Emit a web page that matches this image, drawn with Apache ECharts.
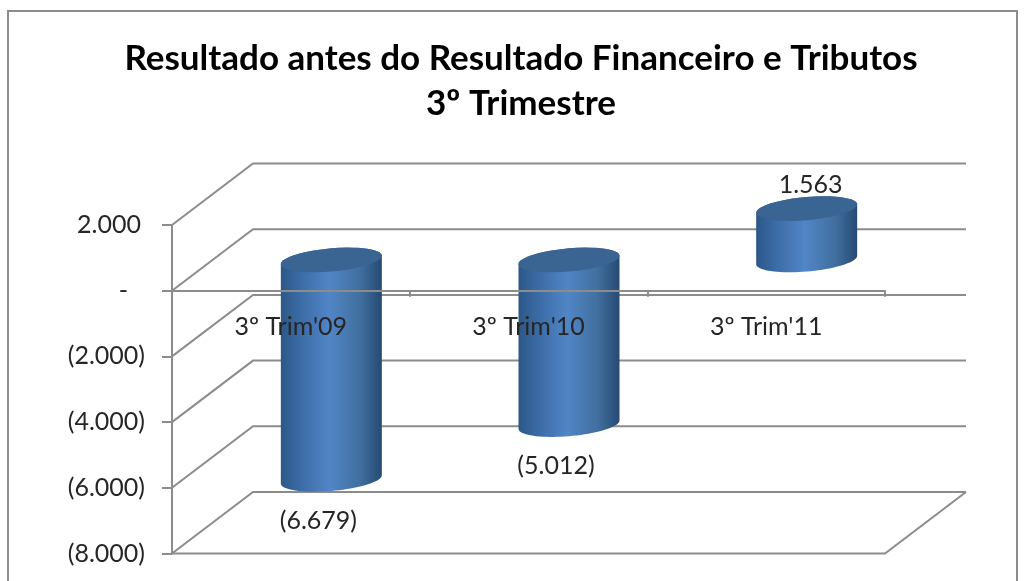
<!DOCTYPE html>
<html>
<head>
<meta charset="utf-8">
<style>
  html, body { margin: 0; padding: 0; background: #fff; }
  #chart { width: 1024px; height: 581px; }
</style>
<script src="https://cdn.jsdelivr.net/npm/echarts@6/dist/echarts.min.js"></script>
</head>
<body>
<div id="chart"></div>
<script>
const categories = ["3º Trim'09", "3º Trim'10", "3º Trim'11"]
const values = [-6679, -5012, 1563]
const yTicks = [2000, 0, -2000, -4000, -6000, -8000]
const titleLines = ['Resultado antes do Resultado Financeiro e Tributos', '3º Trimestre']

const FONT = 'Lato'
const GREY = '#8c8c8c'
const TEXT = '#262626'
// fake 3D: how far the back wall sits from the front plane
const DEPTH_X = 81
const DEPTH_Y = -61.5

function thousands (v) {
  return String(Math.abs(v)).replace(/\B(?=(\d{3})+$)/g, '.')
}

// accounting style: positives and the dash stay clear of the closing bracket column
function axisLabel (v) {
  if (v === 0) return '{dash|-}'
  return v < 0 ? '(' + thousands(v) + ')' : '{pos|' + thousands(v) + '}'
}

function renderWall (params, api) {
  const v = api.value(0)
  const rect = params.coordSys
  const y = api.coord([0, v])[1]
  const x0 = rect.x
  const x1 = rect.x + rect.width
  const style = { fill: null, stroke: GREY, lineWidth: 2 }
  const children = [{
    type: 'polyline',
    shape: { points: [[x0, y], [x0 + DEPTH_X, y + DEPTH_Y], [x1 + DEPTH_X, y + DEPTH_Y]] },
    style
  }]
  if (v === yTicks[yTicks.length - 1]) {
    children.push({
      type: 'polyline',
      shape: { points: [[x0, y], [x1, y], [x1 + DEPTH_X, y + DEPTH_Y]] },
      style
    })
  }
  return { type: 'group', children }
}

// tilted ellipse, slice of it from angle a to angle b
function arc (cx, cy, a, b) {
  const rx = 50.5
  const ry = 11.6
  const shear = 4.2
  const pts = []
  for (let i = 0; i <= 40; i++) {
    const t = (a + (b - a) * i / 40) * Math.PI / 180
    pts.push([cx + rx * Math.cos(t), cy - shear * Math.cos(t) + ry * Math.sin(t)])
  }
  return pts
}

function renderCylinder (params, api) {
  const v = api.value(1)
  const base = api.coord([api.value(0), 0])
  const end = api.coord([api.value(0), v])
  const cx = base[0] + DEPTH_X / 2
  const y0 = base[1] + DEPTH_Y / 2
  const y1 = end[1] + DEPTH_Y / 2
  const top = Math.min(y0, y1)
  const bottom = Math.max(y0, y1)
  const body = arc(cx, bottom, 0, 180).concat(arc(cx, top, 180, 360))
  const side = {
    type: 'linear', x: 0, y: 0, x2: 1, y2: 0,
    colorStops: [
      { offset: 0, color: '#2c5788' },
      { offset: 0.2, color: '#3c6ca6' },
      { offset: 0.48, color: '#5185c6' },
      { offset: 0.78, color: '#41709f' },
      { offset: 1, color: '#264a73' }
    ]
  }
  const label = v < 0
    ? { x: cx - 13, y: bottom + 41.5, text: '(' + thousands(v) + ')' }
    : { x: cx + 4, y: top - 23.5, text: thousands(v) }
  return {
    type: 'group',
    children: [
      { type: 'polygon', shape: { points: body }, style: { fill: side } },
      { type: 'polygon', shape: { points: arc(cx, top, 0, 360) }, style: { fill: '#3a6492' } },
      {
        type: 'text',
        style: {
          x: label.x, y: label.y, text: label.text, fill: TEXT,
          font: '25px ' + FONT, align: 'center', verticalAlign: 'middle'
        }
      }
    ]
  }
}

const chart = echarts.init(document.getElementById('chart'))

chart.setOption({
  animation: false,
  backgroundColor: '#fff',
  title: {
    text: titleLines.join('\n'),
    left: 516,
    top: 31,
    textAlign: 'center',
    textStyle: { fontFamily: FONT, fontSize: 35, fontWeight: 'bold', color: '#000', lineHeight: 45 }
  },
  graphic: [{
    type: 'polyline',
    shape: { points: [[8, 590], [8, 11], [1017, 11], [1017, 590]] },
    style: { fill: null, stroke: GREY, lineWidth: 2 }
  }],
  grid: { left: 172, right: 139, top: 225, bottom: 27.5, outerBoundsMode: 'none' },
  xAxis: {
    type: 'category',
    data: categories,
    z: 5,
    axisLine: { show: true, onZero: true, lineStyle: { color: GREY, width: 2 } },
    axisTick: { show: true, length: 6, lineStyle: { color: GREY, width: 2 } },
    // labels hang off the grid bottom even with onZero, pull them back up under the zero line
    axisLabel: { color: TEXT, fontFamily: FONT, fontSize: 25, margin: -239 }
  },
  yAxis: {
    type: 'value',
    min: -8000,
    max: 2000,
    interval: 2000,
    z: 5,
    axisLine: { show: true, onZero: false, lineStyle: { color: GREY, width: 2 } },
    axisTick: { show: true, length: 10, lineStyle: { color: GREY, width: 2 } },
    axisLabel: {
      color: TEXT,
      fontFamily: FONT,
      fontSize: 25,
      margin: 27,
      formatter: axisLabel,
      rich: {
        pos: { fontFamily: FONT, fontSize: 25, color: TEXT, padding: [0, 4, 0, 0] },
        dash: { fontFamily: FONT, fontSize: 25, color: TEXT, padding: [0, 17, 0, 0] }
      }
    },
    splitLine: { show: false }
  },
  series: [
    {
      type: 'custom',
      name: 'paredes',
      coordinateSystem: 'cartesian2d',
      silent: true,
      clip: false,
      z: 1,
      encode: { y: 0 },
      data: yTicks.map(v => [v]),
      renderItem: renderWall
    },
    {
      type: 'custom',
      name: 'Resultado',
      coordinateSystem: 'cartesian2d',
      clip: false,
      z: 2,
      encode: { x: 0, y: 1 },
      data: values.map((v, i) => [i, v]),
      renderItem: renderCylinder
    }
  ]
})
</script>
</body>
</html>
